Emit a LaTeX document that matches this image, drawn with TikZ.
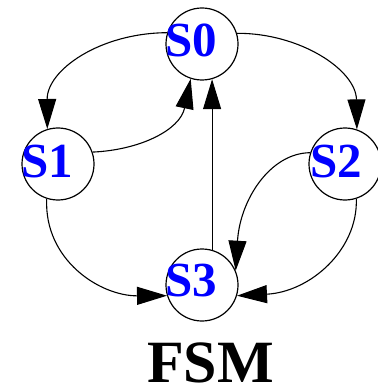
\documentclass[tikz,border=0pt]{standalone}
\usepackage{fontspec}
\setmainfont{Liberation Serif}
\usetikzlibrary{arrows.meta}
\begin{document}
\begin{tikzpicture}[x=1pt,y=-1pt,
  state/.style={circle,draw,line width=1.2pt,fill=white,minimum size=72pt,inner sep=0pt},
  lbl/.style={anchor=base,text=blue,font=\fontsize{49}{49}\selectfont\bfseries,inner sep=0pt},
  edge/.style={line width=1.1pt,-{Triangle[length=30pt,width=18pt]}}]
\useasboundingbox (0,0) rectangle (377,390);
\node[state] (s0) at (202,44) {};
\node[state] (s1) at (58,164) {};
\node[state] (s2) at (345,164) {};
\node[state] (s3) at (202,285) {};
\draw[edge] (s0.162) .. controls (100,33) and (47,70) .. (s1.107);
\draw[edge] (s0.17) .. controls (300,33) and (356,70) .. (s2.71);
\draw[edge] (s1.19) .. controls (140,150) and (180,130) .. (s0.252);
\draw[edge] (s3.74) -- (s0.286);
\draw[edge] (s1.252) .. controls (44,260) and (100,296) .. (s3.197);
\draw[edge] (s2.162) .. controls (270,153) and (240,200) .. (s3.23);
\draw[edge] (s2.288) .. controls (358,250) and (310,292) .. (s3.343);
\node[lbl] (l0) at (191.5,57) {S0};
\node[lbl] (l1) at (47,177) {S1};
\node[lbl] (l2) at (336.5,177) {S2};
\node[lbl] (l3) at (191,296) {S3};
\node[anchor=base,inner sep=0pt,font=\fontsize{60}{60}\selectfont\bfseries] (title) at (210.5,382) {FSM};
\end{tikzpicture}
\end{document}
